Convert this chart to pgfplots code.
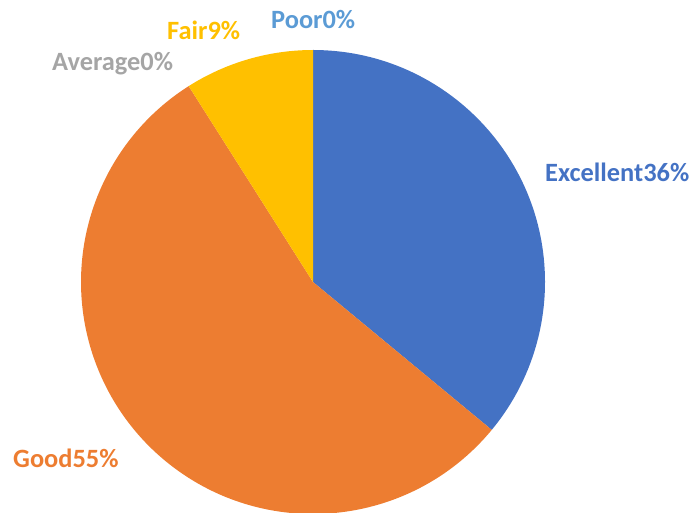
\documentclass[border=0pt]{standalone}
\usepackage{pgfplots}
\pgfplotsset{compat=1.18}
\usepackage{fontspec}
\setmainfont{Carlito}
\definecolor{cExc}{HTML}{4472C4}
\definecolor{cGood}{HTML}{ED7D31}
\definecolor{cAvg}{HTML}{A5A5A5}
\definecolor{cFair}{HTML}{FFC000}
\definecolor{cPoor}{HTML}{5B9BD5}
% shares in percent: Excellent, Good, Average, Fair, Poor
\def\vExc{36}\def\vGood{55}\def\vAvg{0}\def\vFair{9}\def\vPoor{0}
\pgfmathsetmacro\aA{90}
\pgfmathsetmacro\aB{\aA-3.6*\vExc}
\pgfmathsetmacro\aC{\aB-3.6*\vGood}
\pgfmathsetmacro\aD{\aC-3.6*\vAvg}
\pgfmathsetmacro\aE{\aD-3.6*\vFair}
\pgfmathsetmacro\aF{\aE-3.6*\vPoor}
\begin{document}
\begin{tikzpicture}
\begin{axis}[hide axis, scale only axis, width=694bp, height=513bp,
  xmin=0, xmax=694, ymin=0, ymax=513, clip=false]
\def\cx{313}\def\cy{231}\def\r{232bp}
\fill[cExc] (axis cs:\cx,\cy) -- ++(\aA:\r) arc[start angle=\aA, end angle=\aB, radius=\r] -- cycle;
\fill[cGood] (axis cs:\cx,\cy) -- ++(\aB:\r) arc[start angle=\aB, end angle=\aC, radius=\r] -- cycle;
\fill[cFair] (axis cs:\cx,\cy) -- ++(\aD:\r) arc[start angle=\aD, end angle=\aE, radius=\r] -- cycle;
\tikzset{lab/.style={anchor=base west, inner sep=0pt, font=\bfseries\fontsize{26.5}{30}\selectfont}}
\node[lab, text=cExc] at (axis cs:545,331) {Excellent\vExc\%};
\node[lab, text=cGood] at (axis cs:13,46) {Good\vGood\%};
\node[lab, text=cAvg] at (axis cs:52,442) {Average\vAvg\%};
\node[lab, text=cFair] at (axis cs:167,473) {Fair\vFair\%};
\node[lab, text=cPoor] at (axis cs:271,484) {Poor\vPoor\%};
\end{axis}
\pgfresetboundingbox
\path[use as bounding box] (0,0) rectangle (694bp,513bp);
\end{tikzpicture}
\end{document}
